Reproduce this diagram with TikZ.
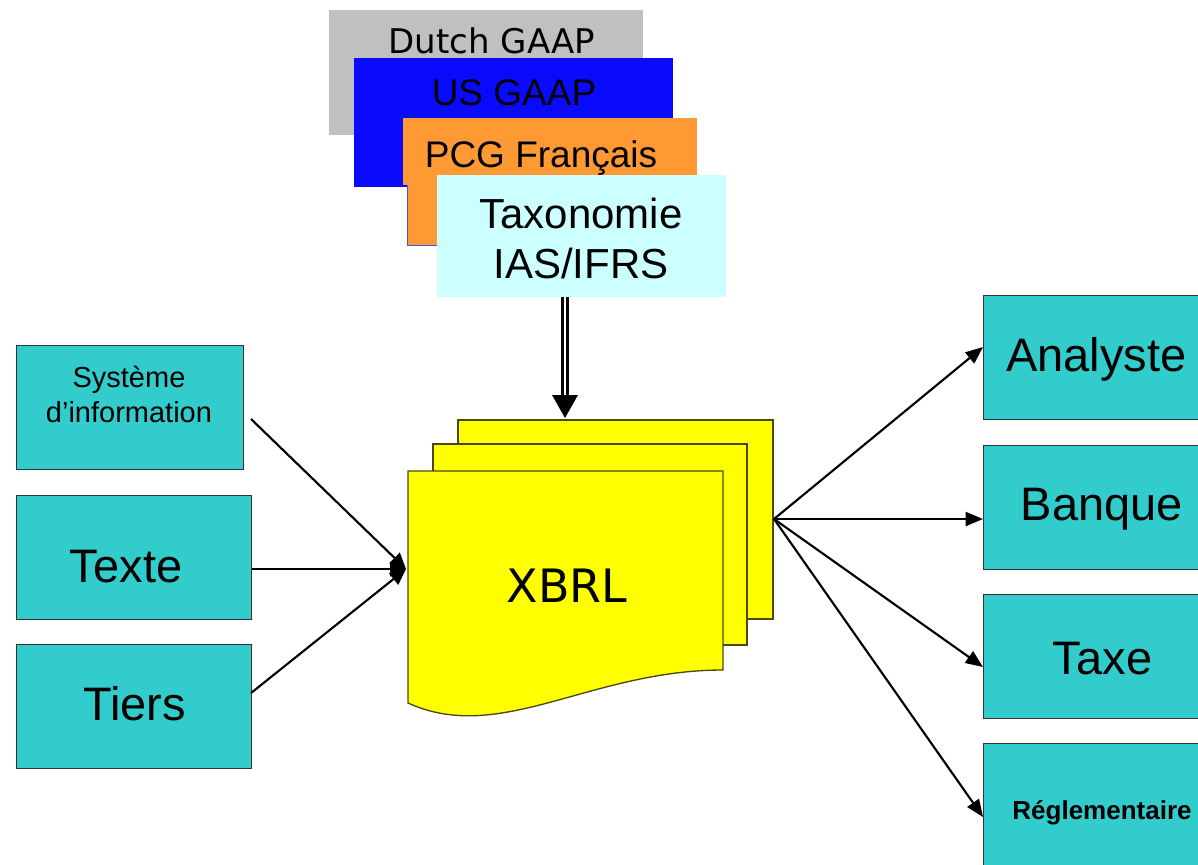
\documentclass[tikz,border=0pt]{standalone}
\usepackage{fontspec}
\setmainfont{Liberation Sans}
\newfontfamily\dejavu{DejaVu Sans}
\usetikzlibrary{arrows.meta}

\definecolor{boxteal}{HTML}{33CCCC}
\definecolor{sheetyellow}{HTML}{FFFF00}
\definecolor{sheetedge}{HTML}{4A4A10}
\definecolor{gaapgray}{HTML}{C0C0C0}
\definecolor{gaapblue}{HTML}{0A0AFF}
\definecolor{gaaporange}{HTML}{FF9933}
\definecolor{ifrscyan}{HTML}{CCFFFF}

% sizes are given in pixels: 1px = 0.75pt
\newcommand{\pxfont}[1]{\fontsize{\dimexpr #1pt*3/4\relax}{\dimexpr #1pt*9/10\relax}\selectfont}

\tikzset{
  plate/.style={draw=none, inner sep=0pt, outer sep=0pt},
  tealbox/.style={draw=black!80, line width=1pt, fill=boxteal},
  sheet/.style={draw=sheetedge, line width=1pt, fill=sheetyellow},
  caption/.style={anchor=base, inner sep=0pt, text=black},
  flow/.style={line width=1.6pt, -{Triangle[length=13pt, width=10.5pt]}},
  inflow/.style={line width=1.6pt, -{Triangle[length=12pt, width=11pt]}},
}

\begin{document}
\begin{tikzpicture}[x=0.75pt, y=-0.75pt]
  \clip (0,0) rectangle (1198,864);
  \fill[white] (0,0) rectangle (1198,864);

  % ---- stacked taxonomies ----
  \fill[gaapgray] (329,10) rectangle (643,135);
  \node[caption, font={\dejavu\pxfont{34}}] (dutch) at (492,53) {Dutch GAAP};

  \fill[gaapblue] (354,58) rectangle (673,187);
  \node[caption, font=\pxfont{37}] (usgaap) at (514,105) {US GAAP};

  \fill[gaaporange] (407,150) rectangle (690,245);
  \draw[blue!70, line width=0.6pt] (407,185) -- (407,245) -- (437,245);
  \fill[gaaporange] (403,118) rectangle (697,185);
  \node[caption, font=\pxfont{37}] (pcg) at (541,167) {PCG Français};

  \node[plate, fill=ifrscyan, minimum width=289*0.75pt, minimum height=122*0.75pt,
        anchor=north west] (ifrs) at (437,175) {};
  \node[caption, font=\pxfont{42}] (tax1) at (581,228) {Taxonomie};
  \node[caption, font=\pxfont{42}] (tax2) at (581,278) {IAS/IFRS};

  % ---- XBRL document stack ----
  \draw[sheet] (458,420) rectangle (773,619);
  \draw[sheet] (433,444) rectangle (747,645);
  \draw[sheet] (408,471) -- (723,471) -- (723,670)
     .. controls (590,670) and (500,745) .. (408,703) -- cycle;
  \node[caption, font={\dejavu\pxfont{46}}] (xbrl) at (567,602) {XBRL};

  \coordinate (xtop) at (565,418);
  \coordinate (xin)  at (406,569);
  \coordinate (xout) at (774,519);

  % double arrow from the taxonomy into the stack
  \coordinate (ifrsout) at (ifrs.south -| xtop);
  \draw[line width=2pt, double=white, double distance=2.2pt]
     (ifrsout) -- ([yshift=21*0.75pt]xtop);
  \fill (xtop) -- ++(-13,-23) -- ++(26,0) -- cycle;

  % ---- sources ----
  \node[tealbox, minimum width=227*0.75pt, minimum height=124*0.75pt,
        anchor=north west] (sys) at (16,345) {};
  \node[caption, font=\pxfont{29}] (sys1) at (129,387) {Système};
  \node[caption, font=\pxfont{29}] (sys2) at (129,422) {d’information};

  \node[tealbox, minimum width=235*0.75pt, minimum height=124*0.75pt,
        anchor=north west] (texte) at (16,495) {};
  \node[caption, font=\pxfont{47}] (textelbl) at (126,582) {Texte};

  \node[tealbox, minimum width=235*0.75pt, minimum height=124*0.75pt,
        anchor=north west] (tiers) at (16,644) {};
  \node[caption, font=\pxfont{47}] (tierslbl) at (134.5,720) {Tiers};

  \coordinate (sysout) at (251,419);
  \coordinate (tiersout) at (251,693);
  \draw[inflow] (sysout) -- (xin);
  \draw[inflow] (texte.east |- xin) -- (xin);
  \draw[inflow] (tiersout) -- (xin);

  % ---- recipients ----
  \node[tealbox, minimum width=240*0.75pt, minimum height=124*0.75pt,
        anchor=north west] (analyste) at (983,295) {};
  \node[caption, font=\pxfont{47}] (analystelbl) at (1096.5,371) {Analyste};

  \node[tealbox, minimum width=240*0.75pt, minimum height=124*0.75pt,
        anchor=north west] (banque) at (983,445) {};
  \node[caption, font=\pxfont{47}] (banquelbl) at (1102,520) {Banque};

  \node[tealbox, minimum width=240*0.75pt, minimum height=124*0.75pt,
        anchor=north west] (taxe) at (983,594) {};
  \node[caption, font=\pxfont{47}] (taxelbl) at (1102.5,674) {Taxe};

  \node[tealbox, minimum width=240*0.75pt, minimum height=140*0.75pt,
        anchor=north west] (regl) at (983,743) {};
  \node[caption, font={\bfseries\pxfont{26}}] (regllbl) at (1102,819) {Réglementaire};

  \draw[flow] (xout) -- (analyste.west |- 0,347);
  \draw[flow] (xout) -- (banque.west |- xout);
  \draw[flow] (xout) -- (taxe.west |- 0,667);
  \draw[flow] (xout) -- (regl.west |- 0,817);
\end{tikzpicture}
\end{document}
